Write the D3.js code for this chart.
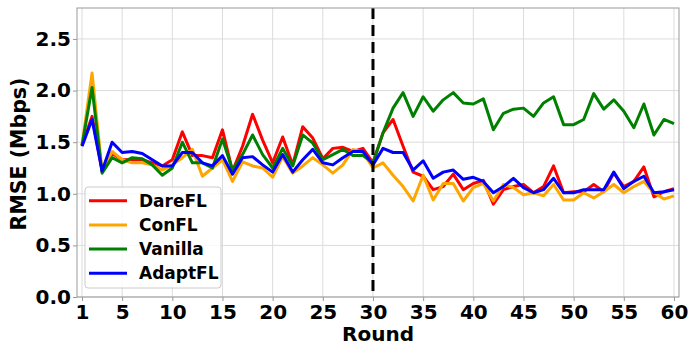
<!DOCTYPE html>
<html>
<head>
<meta charset="utf-8">
<script src="https://cdn.jsdelivr.net/npm/d3@7"></script>
<style>
  html, body { margin: 0; padding: 0; background: #fff; }
  svg { display: block; }
  text { font-family: "DejaVu Sans", sans-serif; font-weight: bold; }
</style>
</head>
<body>
<svg id="chart" width="688" height="345"></svg>
<script>
const xTicks = [1, 5, 10, 15, 20, 25, 30, 35, 40, 45, 50, 55, 60];
const yTicks = [0.0, 0.5, 1.0, 1.5, 2.0, 2.5];
const seriesNames = ["DareFL", "ConFL", "Vanilla", "AdaptFL"];
const seriesColors = ["#ff0000", "#ffa500", "#008000", "#0000ff"];
const splitRound = 30;

const dareFL = [1.47, 1.75, 1.22, 1.39, 1.33, 1.33, 1.33, 1.30, 1.27, 1.33,
  1.60, 1.37, 1.37, 1.35, 1.62, 1.22, 1.46, 1.77, 1.52, 1.30,
  1.55, 1.28, 1.65, 1.54, 1.34, 1.44, 1.45, 1.41, 1.44, 1.30,
  1.59, 1.72, 1.46, 1.21, 1.17, 1.04, 1.07, 1.19, 1.04, 1.10,
  1.13, 0.90, 1.04, 1.07, 1.09, 1.01, 1.07, 1.27, 1.01, 1.02,
  1.02, 1.09, 1.02, 1.20, 1.07, 1.12, 1.26, 0.97, 1.02, 1.05];
const conFL = [1.47, 2.17, 1.22, 1.41, 1.33, 1.30, 1.30, 1.28, 1.23, 1.28,
  1.35, 1.43, 1.17, 1.25, 1.33, 1.12, 1.31, 1.27, 1.25, 1.16,
  1.36, 1.20, 1.27, 1.35, 1.28, 1.20, 1.28, 1.43, 1.40, 1.25,
  1.30, 1.18, 1.07, 0.93, 1.18, 0.94, 1.10, 1.10, 0.93, 1.06,
  1.10, 0.93, 1.09, 1.06, 0.99, 1.01, 0.98, 1.09, 0.94, 0.94,
  1.01, 0.96, 1.02, 1.09, 1.01, 1.07, 1.12, 1.01, 0.95, 0.98];
const vanilla = [1.47, 2.03, 1.20, 1.35, 1.30, 1.35, 1.34, 1.28, 1.18, 1.25,
  1.50, 1.30, 1.30, 1.25, 1.53, 1.23, 1.38, 1.57, 1.38, 1.25,
  1.44, 1.27, 1.57, 1.49, 1.33, 1.38, 1.43, 1.37, 1.37, 1.30,
  1.59, 1.83, 1.98, 1.75, 1.94, 1.80, 1.91, 1.98, 1.88, 1.87,
  1.92, 1.62, 1.78, 1.82, 1.83, 1.75, 1.88, 1.94, 1.67, 1.67,
  1.72, 1.97, 1.82, 1.91, 1.80, 1.64, 1.87, 1.57, 1.72, 1.68];
const adaptFL = [1.46, 1.72, 1.22, 1.50, 1.40, 1.41, 1.39, 1.33, 1.27, 1.27,
  1.40, 1.40, 1.30, 1.27, 1.37, 1.19, 1.35, 1.36, 1.28, 1.21,
  1.38, 1.21, 1.33, 1.43, 1.30, 1.28, 1.35, 1.41, 1.41, 1.28,
  1.44, 1.40, 1.40, 1.23, 1.32, 1.15, 1.21, 1.23, 1.14, 1.16,
  1.12, 1.01, 1.07, 1.15, 1.06, 1.01, 1.04, 1.15, 1.01, 1.01,
  1.04, 1.04, 1.04, 1.21, 1.05, 1.12, 1.17, 1.01, 1.02, 1.04];

const seriesValues = [dareFL, conFL, vanilla, adaptFL];

const svg = d3.select("#chart");
const L = 77, R = 679, T = 8, B = 297;
const x = d3.scaleLinear().domain([0.5, 60.5]).range([L, R]);
const y = d3.scaleLinear().domain([0, 2.8]).range([B, T]);

// grid
const grid = svg.append("g");
grid.selectAll(".vg").data(xTicks).enter().append("line")
  .attr("x1", d => x(d)).attr("x2", d => x(d)).attr("y1", T).attr("y2", B)
  .attr("stroke", "#dcdcdc").attr("stroke-width", 1);
grid.selectAll(".hg").data(yTicks).enter().append("line")
  .attr("x1", L).attr("x2", R).attr("y1", d => y(d)).attr("y2", d => y(d))
  .attr("stroke", "#dcdcdc").attr("stroke-width", 1);

// lines
const line = d3.line().x((d, i) => x(i + 1)).y(d => y(d));
seriesValues.forEach((vals, k) => {
  svg.append("path").datum(vals)
    .attr("d", line)
    .attr("fill", "none")
    .attr("stroke", seriesColors[k])
    .attr("stroke-width", 3)
    .attr("stroke-linejoin", "round")
    .attr("stroke-linecap", "butt");
});

// dashed split line
svg.append("line")
  .attr("x1", x(splitRound)).attr("x2", x(splitRound))
  .attr("y1", T).attr("y2", B)
  .attr("stroke", "#000").attr("stroke-width", 3)
  .attr("stroke-dasharray", "11,6");

// frame
svg.append("rect").attr("x", L).attr("y", T).attr("width", R - L).attr("height", B - T)
  .attr("fill", "none").attr("stroke", "#999").attr("stroke-width", 1);

// axes
const xAxis = d3.axisBottom(x).tickValues(xTicks).tickSize(4).tickPadding(4).tickFormat(d3.format("d"));
const gx = svg.append("g").attr("transform", `translate(0,${B})`).call(xAxis);
gx.select(".domain").remove();
gx.selectAll("line").attr("stroke", "#999");
gx.selectAll("text").attr("font-size", 20).attr("fill", "#000")
  .style("font-family", "DejaVu Sans").style("font-weight", "bold");

const yAxis = d3.axisLeft(y).tickValues(yTicks).tickSize(4).tickPadding(2).tickFormat(d3.format(".1f"));
const gy = svg.append("g").attr("transform", `translate(${L},0)`).call(yAxis);
gy.select(".domain").remove();
gy.selectAll("line").attr("stroke", "#999");
gy.selectAll("text").attr("font-size", 20).attr("fill", "#000")
  .style("font-family", "DejaVu Sans").style("font-weight", "bold");

// axis titles
svg.append("text").attr("x", (L + R) / 2).attr("y", 341)
  .attr("text-anchor", "middle").attr("font-size", 20).text("Round");
svg.append("text").attr("transform", `translate(26,154) rotate(-90)`)
  .attr("text-anchor", "middle").attr("font-size", 20.5).text("RMSE (Mbps)");

// legend
const lg = svg.append("g");
lg.append("rect").attr("x", 85).attr("y", 187).attr("width", 136).attr("height", 101)
  .attr("rx", 3).attr("fill", "#fff").attr("fill-opacity", 0.8)
  .attr("stroke", "#cccccc").attr("stroke-width", 1);
seriesNames.forEach((name, k) => {
  const yy = 200.7 + k * 24.2;
  lg.append("line").attr("x1", 89).attr("x2", 127).attr("y1", yy).attr("y2", yy)
    .attr("stroke", seriesColors[k]).attr("stroke-width", 3);
  lg.append("text").attr("x", 139).attr("y", yy + 6).attr("font-size", 17).text(name);
});
</script>
</body>
</html>
